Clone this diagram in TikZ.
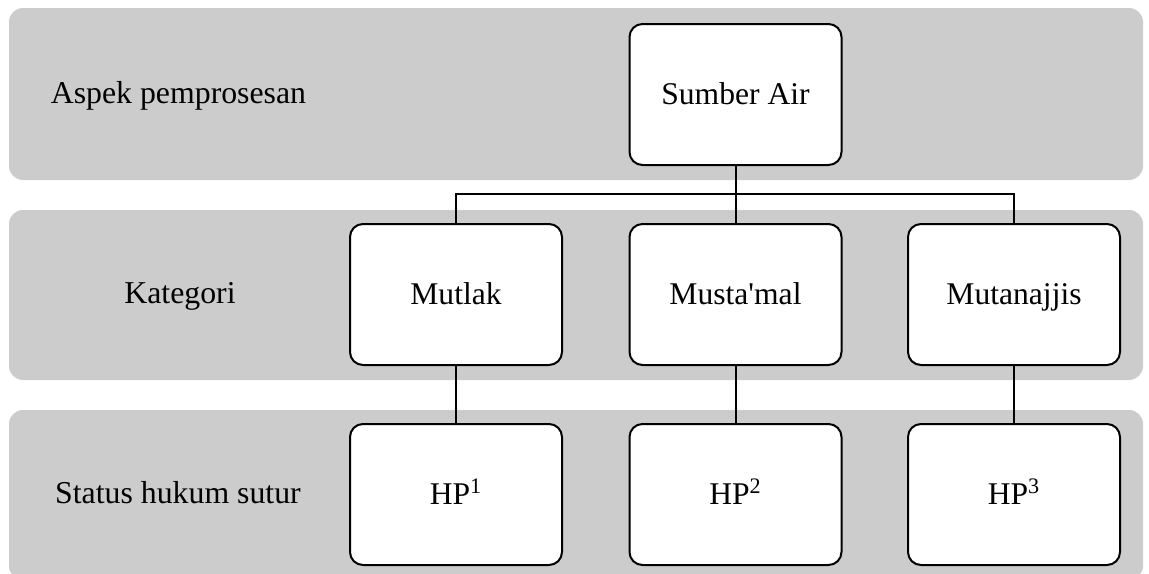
\documentclass[tikz,border=0pt]{standalone}
\usepackage{fontspec}
\setmainfont{Liberation Serif}
\begin{document}
\begin{tikzpicture}[x=0.5pt,y=-0.5pt,
  band/.style={fill=gray!40,rounded corners=7pt},
  box/.style={draw,line width=1pt,fill=white,rounded corners=6.5pt,
    minimum width=106pt,minimum height=70.5pt,text height=12.5pt,text depth=3pt,
    font=\fontsize{15.8}{19}\selectfont},
  lbl/.style={text height=12pt,text depth=3pt,font=\fontsize{15.9}{19}\selectfont},
  link/.style={line width=1pt}]
\useasboundingbox (0,0) rectangle (1149,573);
\clip (0,0) rectangle (1149,573);
\foreach \t/\b in {8/180,210/380,410/580} {
  \fill[band] (9,\t) rectangle (1143,\b);
}
\node[lbl] (aspek) at (178.5,94.5) {Aspek pemprosesan};
\node[lbl] (kategori) at (180,294.5) {Kategori};
\node[lbl] (status) at (178,494.5) {Status hukum sutur};
\node[box] (sumber) at (735.5,94.5) {Sumber Air};
\foreach \x/\n/\t/\k in {456/mutlak/Mutlak/1,735.5/mustamal/Musta\textquotesingle mal/2,1014/mutanajjis/Mutanajjis/3} {
  \node[box] (\n) at (\x,294.5) {\t};
  \node[box] (hp\k) at (\x,494.5) {HP\textsuperscript{\k}};
  \draw[link] (\n) -- (hp\k);
}
\coordinate (bus) at (735.5,194);
\draw[link] (sumber) -- (mustamal);
\draw[link] (mutlak.north) |- (bus) -| (mutanajjis.north);
\end{tikzpicture}
\end{document}
